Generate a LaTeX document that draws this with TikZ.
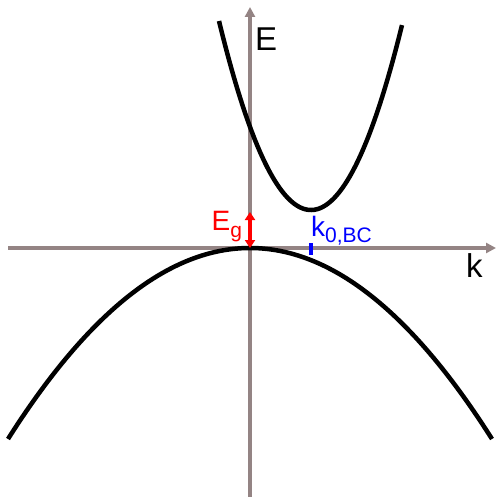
\documentclass[tikz,border=0pt]{standalone}
\usepackage{fontspec}
\setmainfont{Liberation Sans}
\usetikzlibrary{arrows.meta}
\definecolor{axisgray}{RGB}{148,132,132}
\definecolor{egred}{RGB}{255,0,0}
\definecolor{kblue}{RGB}{0,0,255}
\tikzset{
  axis/.style={draw=axisgray, line width=4pt, -{Triangle[length=10pt,width=10pt]}},
  band/.style={draw=black, line width=4.5pt},
  lbl/.style={inner sep=0pt, anchor=base west},
}
\begin{document}
\begin{tikzpicture}[x=1pt,y=-1pt]
\useasboundingbox (0,0) rectangle (496,497);
% axes
\coordinate (xl) at (8,248);
\coordinate (xr) at (496,248);
\coordinate (yb) at (250,497);
\coordinate (yt) at (250,7);
\draw[axis] (xl) -- (xr);
\draw[axis] (yb) -- (yt);
% bands
\draw[band] plot[domain=219:402, samples=120] (\x, {210-189*((\x-311)/92)^2});
\draw[band] plot[domain=8:492, samples=160] (\x, {248+191*((\x-250)/242)^2});
% gap arrow
\coordinate (gb) at (250,248);
\coordinate (gt) at (250,212);
\draw[egred, line width=3.5pt, {Triangle[length=8pt,width=10pt]}-{Triangle[length=8pt,width=10pt]}] (gb) -- (gt);
% k0 tick
\coordinate (tb) at (311,255);
\coordinate (tt) at (311,243);
\draw[kblue, line width=4pt] (tb) -- (tt);
% labels
\node[lbl, font=\fontsize{33}{33}\selectfont] (E) at (255,51) {E};
\node[lbl, font=\fontsize{33}{33}\selectfont] (k) at (466,277) {k};
\node[lbl, text=egred, font=\fontsize{28}{28}\selectfont] (Eg) at (211.5,230.5) {E\raisebox{-6.5pt}{\fontsize{21}{21}\selectfont g}};
\node[lbl, text=kblue, font=\fontsize{28}{28}\selectfont] (k0) at (311,236) {k\raisebox{-6pt}{\fontsize{21}{21}\selectfont 0,BC}};
\end{tikzpicture}
\end{document}
